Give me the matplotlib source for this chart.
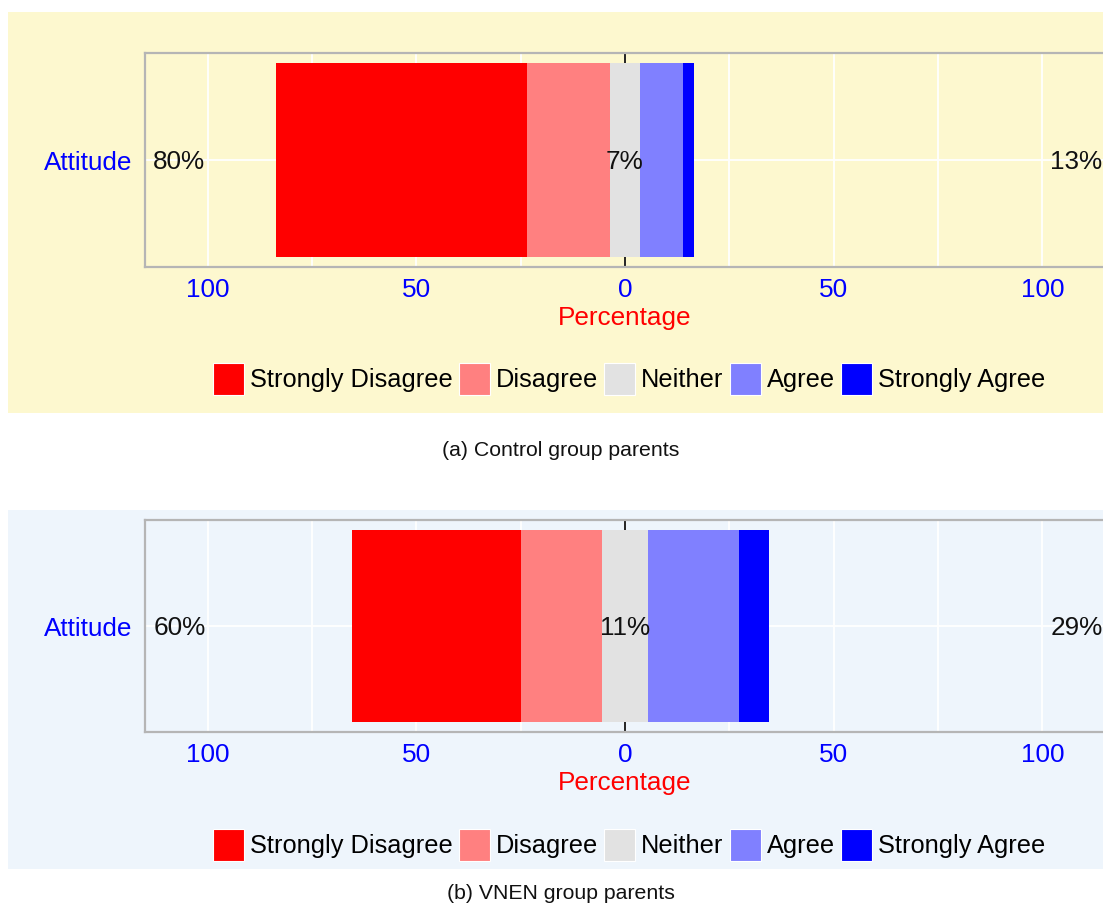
import numpy as np
import matplotlib
matplotlib.use("Agg")
import matplotlib.pyplot as plt
from matplotlib.patches import Rectangle, Patch
from matplotlib.ticker import MultipleLocator

plt.rcParams['font.family'] = ['Liberation Sans', 'DejaVu Sans']

# data (percent of respondents)
categories = ['Strongly Disagree', 'Disagree', 'Neither', 'Agree', 'Strongly Agree']
colors = ['#FF0000', '#FF8080', '#E2E2E2', '#8080FF', '#0000FF']
item_label = 'Attitude'
control_vals = [60.0, 20.0, 7.0, 10.5, 2.5]
vnen_vals = [40.5, 19.5, 10.8, 22.0, 7.2]
x_ticks = [-100, -50, 0, 50, 100]
x_ticklabels = ['100', '50', '0', '50', '100']

W, H = 1103, 905
FS = 18.8
fig = plt.figure(figsize=(W / 100, H / 100), dpi=100)


def px(x0, y0, x1, y1):
    # pixel box (top-left origin) -> figure fraction rect
    return [x0 / W, 1 - y1 / H, (x1 - x0) / W, (y1 - y0) / H]


def draw_panel(vals, bg, box, ax_box, legend_y, caption, caption_y):
    b = px(*box)
    fig.patches.append(Rectangle((b[0], b[1]), b[2], b[3], transform=fig.transFigure,
                                 facecolor=bg, edgecolor='none', zorder=-5))
    ax = fig.add_axes(px(*ax_box))
    ax.set_facecolor(bg)
    ax.set_xlim(-115, 115)
    ax.set_ylim(-0.5, 0.5)

    start = -(vals[0] + vals[1] + vals[2] / 2)
    lefts = start + np.concatenate([[0], np.cumsum(vals)[:-1]])
    for v, l, c, name in zip(vals, lefts, colors, categories):
        ax.barh(0, v, left=l, height=0.91, color=c, edgecolor='none', zorder=3, label=name)
    ax.axvline(0, color='black', lw=1.2, zorder=2)

    neg = vals[0] + vals[1]
    pos = vals[3] + vals[4]
    ax.text(-113, -0.01, f"{neg:.0f}%", ha='left', va='center', fontsize=FS, color='#111111', zorder=4)
    ax.text(0, -0.01, f"{vals[2]:.0f}%", ha='center', va='center', fontsize=FS, color='#111111', zorder=4)
    ax.text(114.4, -0.01, f"{pos:.0f}%", ha='right', va='center', fontsize=FS, color='#111111', zorder=4)

    ax.set_xticks(x_ticks)
    ax.set_xticklabels(x_ticklabels)
    ax.xaxis.set_minor_locator(MultipleLocator(25))
    ax.set_yticks([0])
    ax.set_yticklabels([item_label])
    ax.tick_params(axis='both', which='both', length=0, labelsize=FS, labelcolor='#0000FF')
    ax.tick_params(axis='x', pad=8)
    ax.tick_params(axis='y', pad=9)
    ax.grid(True, which='both', color='white', lw=1.3, zorder=1)
    ax.set_axisbelow(True)
    for s in ax.spines.values():
        s.set_color('#B5B5B5')
        s.set_linewidth(1.6)

    ax.set_xlabel('Percentage', fontsize=FS, color='#FF0000', labelpad=3)

    handles = [Patch(facecolor=c, edgecolor='white', lw=0.8, label=n) for c, n in zip(colors, categories)]
    ax.legend(handles=handles, loc='center', bbox_to_anchor=(629 / W, 1 - legend_y / H),
              bbox_transform=fig.transFigure, ncol=5, frameon=False, fontsize=18.3,
              handlelength=1.22, handleheight=1.55, handletextpad=0.24, columnspacing=0.24,
              borderpad=0, borderaxespad=0)

    fig.text(561 / W, 1 - caption_y / H, caption, ha='center', va='center', fontsize=15.3, color='#111111')
    return ax


draw_panel(control_vals, '#FDF8CF', (8, 12, 1103, 413), (145, 53, 1105, 267), 379,
           '(a) Control group parents', 450)
draw_panel(vnen_vals, '#EEF5FC', (8, 510, 1103, 869), (145, 520, 1105, 732), 845,
           '(b) VNEN group parents', 893)

fig.savefig('out.png', dpi=100)
